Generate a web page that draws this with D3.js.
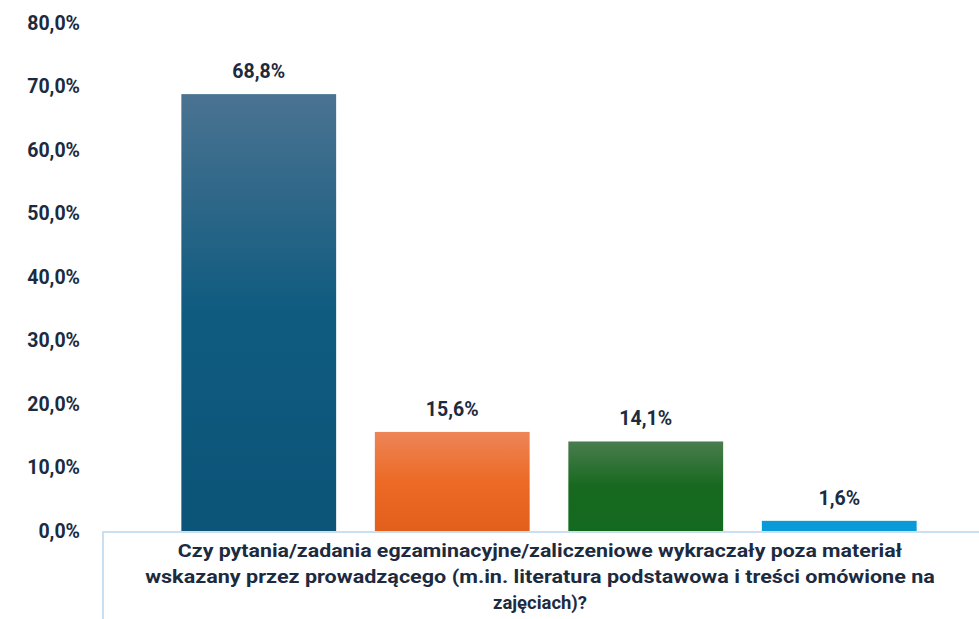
<!DOCTYPE html>
<html><head><meta charset="utf-8">
<script src="https://cdn.jsdelivr.net/npm/d3@7"></script>
<style>body{margin:0;background:#fff;}svg{display:block;}</style>
</head><body>
<svg id="c" width="979" height="619"></svg>
<script>
const categories = ["A","B","C","D"];
const values = [68.8, 15.6, 14.1, 1.6];
const valueLabels = ["68,8%","15,6%","14,1%","1,6%"];
const tickValues = [0,10,20,30,40,50,60,70,80];
const tickLabels = ["0,0%","10,0%","20,0%","30,0%","40,0%","50,0%","60,0%","70,0%","80,0%"];
const axisTitle = ["Czy pytania/zadania egzaminacyjne/zaliczeniowe wykraczały poza materiał",
  "wskazany przez prowadzącego (m.in. literatura podstawowa i treści omówione na",
  "zajęciach)?"];
const gradients = [["#4b7391","#0f5b80","#0c5478"],["#ee8558","#ec6a25","#e25f1c"],["#4a7d4f","#17691f","#136a1f"],["#0a9ad8","#0a9ad8","#0a9ad8"]];

const svg = d3.select("#c");
const textColor = "#1c2b3f";
const y = d3.scaleLinear().domain([0,80]).range([531,23]);
const x = d3.scaleBand().domain(categories).range([162,936]).paddingInner(0.2).paddingOuter(0.1);

const defs = svg.append("defs");
gradients.forEach((g,i)=>{
  const lg = defs.append("linearGradient").attr("id","g"+i).attr("x1",0).attr("x2",0).attr("y1",0).attr("y2",1);
  lg.append("stop").attr("offset","0%").attr("stop-color",g[0]);
  lg.append("stop").attr("offset","50%").attr("stop-color",g[1]);
  lg.append("stop").attr("offset","100%").attr("stop-color",g[2]);
});

// y axis labels
const yAxis = d3.axisLeft(y).tickValues(tickValues).tickFormat((d,i)=>tickLabels[i]).tickSize(0).tickPadding(0);
const ya = svg.append("g").attr("transform","translate(80,0)").call(yAxis);
ya.select(".domain").remove();
ya.selectAll("text").attr("fill",textColor).attr("font-family","Roboto, sans-serif").attr("font-weight","bold").attr("font-size","19.5px");

// bars
svg.selectAll("rect.bar").data(values).enter().append("rect").attr("class","bar")
  .attr("x",(d,i)=>x(categories[i])).attr("width",x.bandwidth())
  .attr("y",d=>y(d)).attr("height",d=>y(0)-y(d))
  .attr("fill",(d,i)=>"url(#g"+i+")");

// value labels
svg.selectAll("text.val").data(values).enter().append("text").attr("class","val")
  .attr("x",(d,i)=>x(categories[i])+x.bandwidth()/2).attr("y",d=>y(d)-16)
  .attr("text-anchor","middle").attr("fill",textColor)
  .attr("font-family","Roboto, sans-serif").attr("font-weight","bold").attr("font-size","19.5px")
  .text((d,i)=>valueLabels[i]);

// category box lines
svg.append("line").attr("x1",103).attr("x2",979).attr("y1",y(0)+1).attr("y2",y(0)+1).attr("stroke","#c9dff2").attr("stroke-width",2);
svg.append("line").attr("x1",103).attr("x2",103).attr("y1",y(0)).attr("y2",619).attr("stroke","#c9dff2").attr("stroke-width",2);

// axis title (narrow bold lines, horizontally scaled)
const targets = [725,790,94];
axisTitle.forEach((l,i)=>{
  const tx = svg.append("text").attr("text-anchor","middle").attr("fill",textColor)
    .attr("font-family","Roboto, sans-serif").attr("font-weight","bold").attr("font-size","19px")
    .attr("x",0).attr("y",0).text(l);
  const w = tx.node().getComputedTextLength();
  const k = targets[i]/w;
  tx.attr("transform","translate(540,"+(557+i*26)+") scale("+k+",1)");
});
</script>
</body></html>
